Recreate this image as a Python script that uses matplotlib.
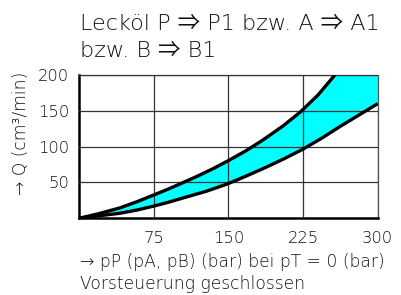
import matplotlib
matplotlib.use("Agg")
import matplotlib.pyplot as plt
import numpy as np

plt.rcParams['font.family'] = ['DejaVu Sans', 'Noto Sans CJK SC', 'DejaVu Sans Mono']

# data
x_upper = [0, 20, 41, 58, 75, 90, 104, 120, 135, 150, 168, 185, 205, 222, 240, 257]
y_upper = [0, 6.5, 14.5, 23, 32.5, 41, 49.5, 59.5, 69.5, 80.5, 94.5, 109.5, 129, 148, 172, 200]
x_lower = [0, 20, 41, 58, 75, 90, 106, 128, 150, 168, 187.5, 205, 225, 244, 262, 281, 300]
y_lower = [0, 3.5, 7, 11.5, 17, 22.5, 29, 37.8, 48.5, 59, 71, 82.5, 96.5, 112, 128, 144, 160]
xticks = [75, 150, 225, 300]
yticks = [50, 100, 150, 200]
y_top = 200

W, H = 401, 295
fig = plt.figure(figsize=(W/100, H/100), dpi=100)
ax = fig.add_axes([79/W, 1-218.3/H, (377.7-79)/W, (218.3-75)/H])

poly_x = list(x_upper) + [x_lower[-1]] + list(x_lower[::-1])
poly_y = list(y_upper) + [y_top] + list(y_lower[::-1])
ax.fill(poly_x, poly_y, color='#00ffff', lw=0, zorder=1)
ax.plot(x_upper, y_upper, color='black', lw=2.4, solid_capstyle='butt',
        solid_joinstyle='round', zorder=3)
ax.plot(x_lower, y_lower, color='black', lw=2.4, solid_capstyle='butt',
        solid_joinstyle='round', zorder=3)

ax.set_xlim(0, 300)
ax.set_ylim(0, 200)
ax.set_xticks(xticks)
ax.set_yticks(yticks)
ax.grid(True, color='#333333', lw=0.9, zorder=2)
ax.set_axisbelow(False)
for s in ['top', 'right']:
    ax.spines[s].set_color('#555555')
    ax.spines[s].set_linewidth(0.9)
for s in ['left', 'bottom']:
    ax.spines[s].set_color('black')
    ax.spines[s].set_linewidth(1.8)

tc = '#111111'
fw = 'light'
ax.tick_params(axis='x', length=0, labelsize=11.8, colors=tc, pad=9)
ax.tick_params(axis='y', length=0, labelsize=11.8, colors=tc, pad=7)
for lab in ax.get_xticklabels() + ax.get_yticklabels():
    lab.set_fontweight(fw)

fig.text(80/W, 1-24/H, 'Lecköl P ⇒ P1 bzw. A ⇒ A1', fontsize=16.1, color=tc, va='center', ha='left', fontweight=fw)
fig.text(80/W, 1-51/H, 'bzw. B ⇒ B1', fontsize=16.1, color=tc, va='center', ha='left', fontweight=fw)
fig.text(21/W, 1-133/H, '→ Q (cm³/min)', fontsize=12.3, color=tc, rotation=90, va='center', ha='center', fontweight=fw)
fig.text(80/W, 1-262/H, '→ pP (pA, pB) (bar) bei pT = 0 (bar)', fontsize=12.3, color=tc, va='center', ha='left', fontweight=fw)
fig.text(80/W, 1-284/H, 'Vorsteuerung geschlossen', fontsize=12.3, color=tc, va='center', ha='left', fontweight=fw)

fig.savefig('out.png', dpi=100)
